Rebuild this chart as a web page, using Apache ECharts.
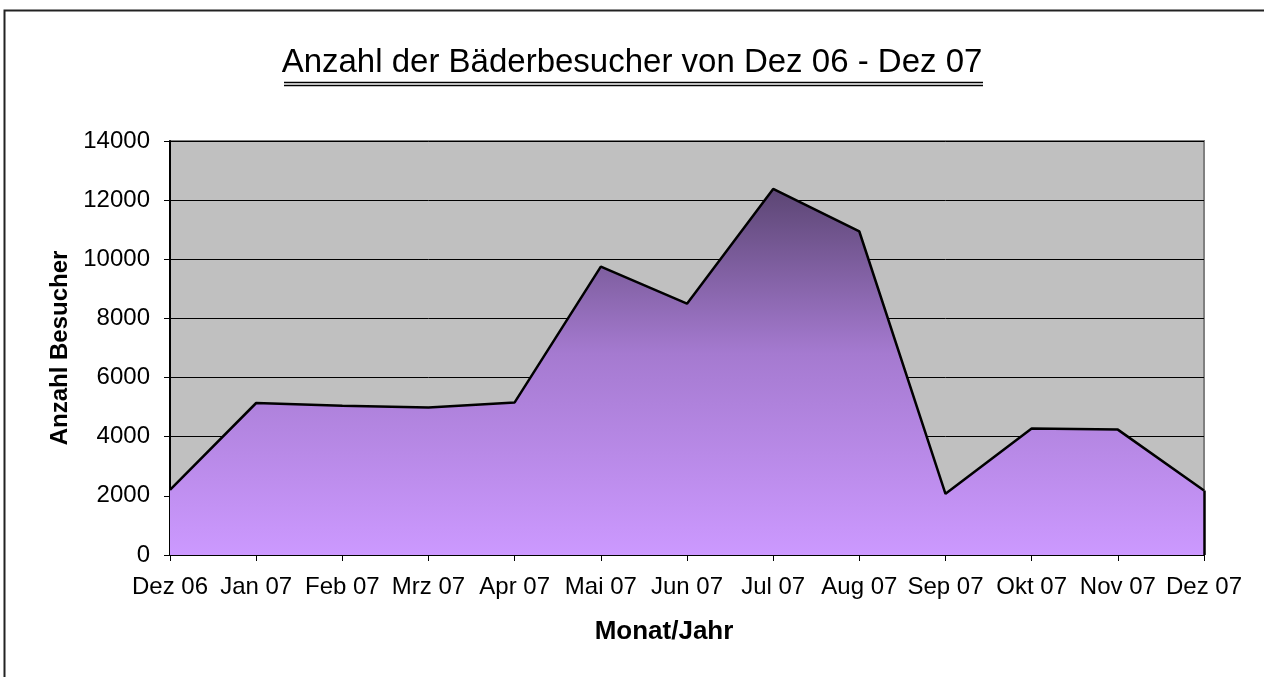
<!DOCTYPE html>
<html>
<head>
<meta charset="utf-8">
<script src="https://cdn.jsdelivr.net/npm/echarts@6/dist/echarts.min.js"></script>
<style>
html,body{margin:0;padding:0;background:#fff;}
#chart{width:1264px;height:677px;}
</style>
</head>
<body>
<div id="chart"></div>
<script>
const titleText = 'Anzahl der Bäderbesucher von Dez 06 - Dez 07';
const categories = ['Dez 06','Jan 07','Feb 07','Mrz 07','Apr 07','Mai 07','Jun 07','Jul 07','Aug 07','Sep 07','Okt 07','Nov 07','Dez 07'];
const visitors = [2200, 5140, 5050, 4990, 5160, 9750, 8500, 12380, 10940, 2070, 4280, 4240, 2180];
const yTicks = { min: 0, max: 14000, interval: 2000 };
const xName = 'Monat/Jahr';
const yName = 'Anzahl Besucher';

const chart = echarts.init(document.getElementById('chart'), null, {renderer:'canvas'});
const font = '"Liberation Sans", Arial, sans-serif';
chart.setOption({
  animation: false,
  backgroundColor: '#ffffff',
  title: {
    text: titleText,
    left: 'center',
    top: 46,
    padding: 0,
    textStyle: { fontFamily: font, fontSize: 33, fontWeight: 'normal', color: '#000' }
  },
  graphic: [
    { type: 'rect', shape: { x: 4.5, y: 10.5, width: 1300, height: 700 }, style: { fill: 'none', stroke: '#222', lineWidth: 2 }, silent: true, z: 100 },
    { type: 'line', shape: { x1: 284, y1: 82.5, x2: 983, y2: 82.5 }, style: { stroke: '#000', lineWidth: 1.5 }, z: 100 },
    { type: 'line', shape: { x1: 284, y1: 85.5, x2: 983, y2: 85.5 }, style: { stroke: '#000', lineWidth: 1.5 }, z: 100 }
  ],
  grid: {
    left: 170, right: 60, top: 141, bottom: 122,
    show: true, backgroundColor: '#c0c0c0', borderColor: '#808080', borderWidth: 2
  },
  xAxis: {
    type: 'category',
    data: categories,
    boundaryGap: false,
    name: xName,
    nameLocation: 'middle',
    nameGap: 64,
    nameTextStyle: { fontFamily: font, fontSize: 26, fontWeight: 'bold', color: '#000', padding: [0, 46, 0, 0] },
    axisLine: { lineStyle: { color: '#000', width: 2 } },
    axisTick: { show: true, length: 6, lineStyle: { color: '#000' }, alignWithLabel: true },
    axisLabel: { fontFamily: font, fontSize: 24, color: '#000', margin: 20, interval: 0 },
    splitLine: { show: false }
  },
  yAxis: {
    type: 'value',
    min: yTicks.min, max: yTicks.max, interval: yTicks.interval,
    name: yName,
    nameLocation: 'middle',
    nameGap: 94,
    nameRotate: 90,
    nameTextStyle: { fontFamily: font, fontSize: 24, fontWeight: 'bold', color: '#000' },
    axisLine: { show: true, lineStyle: { color: '#000', width: 2 } },
    axisTick: { show: true, length: 6, lineStyle: { color: '#000' } },
    axisLabel: { fontFamily: font, fontSize: 24, color: '#000', margin: 20, formatter: v => String(v) },
    splitLine: { show: true, lineStyle: { color: '#000', width: 1 } }
  },
  series: [{
    type: 'line',
    data: visitors,
    symbol: 'none',
    lineStyle: { color: '#000', width: 2.5 },
    areaStyle: {
      opacity: 1,
      color: new echarts.graphic.LinearGradient(0, 0, 0, 1, [
        { offset: 0, color: '#5c4674' },
        { offset: 0.45, color: '#a57ad0' },
        { offset: 1, color: '#cc99ff' }
      ])
    },
    markLine: {
      silent: true,
      symbol: 'none',
      label: { show: false },
      lineStyle: { color: '#000', width: 2.5, type: 'solid' },
      data: [[
        { coord: [categories.length - 1, 0] },
        { coord: [categories.length - 1, visitors[visitors.length - 1]] }
      ]]
    }
  }]
});
</script>
</body>
</html>
